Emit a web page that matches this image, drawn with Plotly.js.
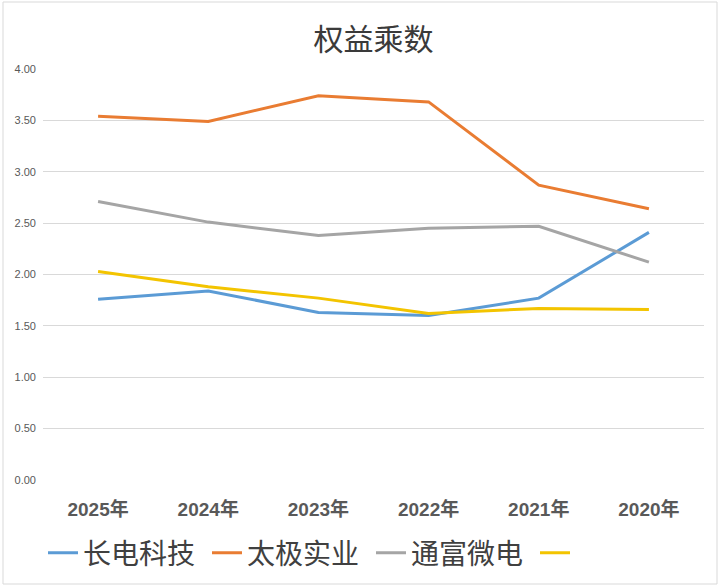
<!DOCTYPE html>
<html>
<head>
<meta charset="utf-8">
<script src="https://cdn.plot.ly/plotly-3.0.1.min.js"></script>
<style>html,body{margin:0;padding:0;background:#fff;}#chart{width:719px;height:586px;}</style>
</head>
<body>
<div id="chart"></div>
<script>
const years = ['2025年','2024年','2023年','2022年','2021年','2020年'];
const seriesNames = ['长电科技','太极实业','通富微电',''];
const changdian = [1.76, 1.84, 1.63, 1.60, 1.77, 2.41];
const taiji = [3.54, 3.49, 3.74, 3.68, 2.87, 2.64];
const tongfu = [2.71, 2.51, 2.38, 2.45, 2.47, 2.12];
const fourth = [2.03, 1.88, 1.77, 1.62, 1.67, 1.66];
const yTicks = [0, 0.5, 1, 1.5, 2, 2.5, 3, 3.5, 4];
const yTickText = ['0.00','0.50','1.00','1.50','2.00','2.50','3.00','3.50','4.00'];
const colors = ['#5B9BD5','#E97C32','#A5A5A5','#F3C400'];

const vals = [changdian, taiji, tongfu, fourth];
const traces = vals.map((v, i) => ({
  type: 'scatter', mode: 'lines', x: years, y: v, name: seriesNames[i],
  line: {color: colors[i], width: 3}, showlegend: true
}));

const layout = {
  width: 719, height: 586,
  margin: {l: 43, r: 15, t: 69, b: 106, autoexpand: false},
  paper_bgcolor: '#fff', plot_bgcolor: '#fff',
  title: {text: '权益乘数', xref: 'paper', x: 0.5, xanchor: 'center', y: 0.932, yanchor: 'middle',
    font: {family: 'Noto Sans CJK SC', size: 30, color: '#3A3A3A'}},
  xaxis: {type: 'category', range: [-0.5, 5.5], showgrid: false, zeroline: false, showline: false,
    ticks: '', tickfont: {family: 'Liberation Sans, Noto Sans CJK SC', size: 19, color: '#595959', weight: 'bold'},
    ticklabelstandoff: 16},
  yaxis: {range: [0, 4], tickvals: yTicks, ticktext: yTickText, showgrid: true,
    gridcolor: '#D9D9D9', gridwidth: 1, zeroline: false, showline: false, ticks: '',
    tickfont: {family: 'Liberation Sans', size: 11, color: '#595959'}, ticklabelstandoff: 6},
  legend: {orientation: 'h', x: 0.0, xanchor: 'left', y: -0.178, yanchor: 'middle',
    font: {family: 'Noto Sans CJK SC', size: 28, color: '#404040'},
    itemwidth: 30, entrywidth: 119, entrywidthmode: 'pixels', tracegroupgap: 0, bgcolor: 'rgba(0,0,0,0)'},
  shapes: [{type: 'rect', xref: 'paper', yref: 'paper',
    x0: (3 - 43) / 661, x1: (717 - 43) / 661, y0: (586 - 106 - 584) / 411, y1: (586 - 106 - 2) / 411,
    line: {color: '#D9D9D9', width: 1}, fillcolor: 'rgba(0,0,0,0)'}]
};

Plotly.newPlot('chart', traces, layout, {displayModeBar: false, responsive: false});
</script>
</body>
</html>
